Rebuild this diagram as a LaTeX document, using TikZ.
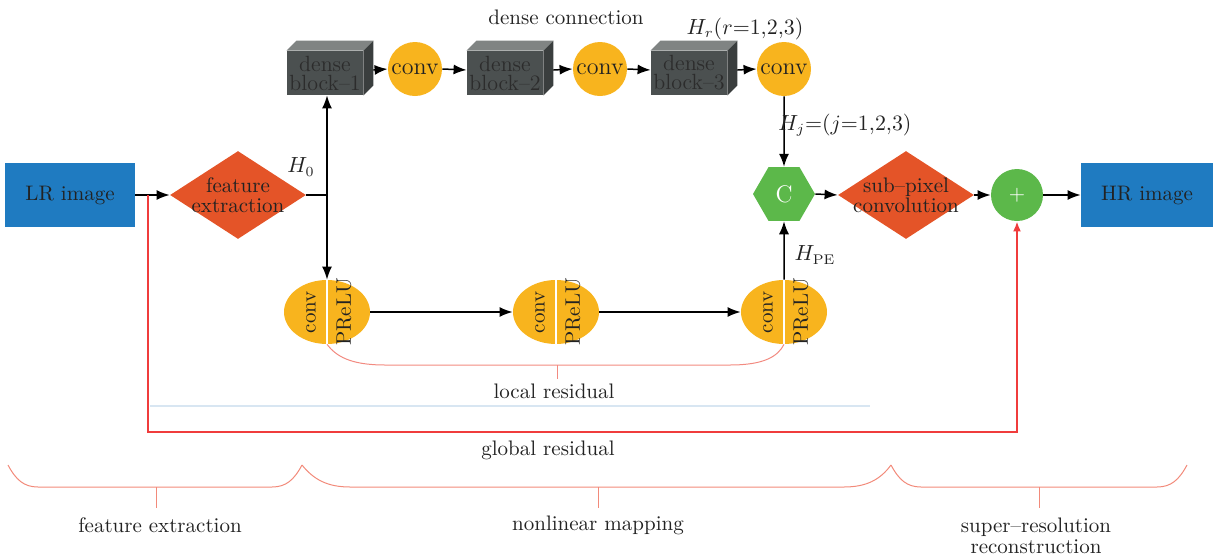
\documentclass[tikz,border=0pt]{standalone}
\usetikzlibrary{shapes.geometric,arrows.meta,calc}
\definecolor{lrblue}{HTML}{1F7BC1}
\definecolor{diam}{HTML}{E45428}
\definecolor{yel}{HTML}{F8B41E}
\definecolor{grn}{HTML}{5CB84A}
\definecolor{dfront}{HTML}{4B5050}
\definecolor{dtop}{HTML}{808483}
\definecolor{dside}{HTML}{3A3E3E}
\definecolor{dtext}{HTML}{2C2C2C}
\definecolor{gres}{HTML}{F03C3C}
\definecolor{lres}{HTML}{F28A80}
\definecolor{brc}{HTML}{F28A7A}
\definecolor{lblue}{HTML}{D8E6F2}
\definecolor{txt}{HTML}{222222}
\begin{document}
\begin{tikzpicture}[x=0.5pt,y=-0.5pt, font=\fontsize{10.5}{11}\selectfont, text=txt,
 imgbox/.style={rectangle, fill=lrblue, minimum width=65pt, minimum height=32pt, inner sep=0pt},
 dia/.style={diamond, fill=diam, minimum width=68pt, minimum height=44pt, inner sep=0pt},
 convc/.style={circle, fill=yel, minimum size=27pt, inner sep=0pt, font=\fontsize{12}{12}\selectfont},
 dblk/.style={rectangle, fill=dfront, minimum width=38pt, minimum height=22pt, inner sep=0pt, text=dtext, align=center, font=\fontsize{11}{9.5}\selectfont},
 ell/.style={ellipse, fill=yel, minimum width=43pt, minimum height=32pt, inner sep=0pt},
 arr/.style={draw=black, line width=0.75pt, -{Latex[length=6.5pt,width=5pt]}},
 ln/.style={draw=black, line width=0.75pt},
 rarr/.style={draw=gres, line width=1pt, -{Latex[length=5pt,width=4pt]}},
 lres/.style={draw=lres, line width=0.5pt},
 brace/.style={draw=brc, line width=0.5pt},
 lbl/.style={inner sep=0pt, align=center},
]
\useasboundingbox (0,0) rectangle (1223,558);

% left part
\node[imgbox] (lr) at (70,195) {LR image};
\node[dia, label={[align=center, font=\fontsize{10.5}{10}\selectfont]center:{feature\\extraction}}] (fe) at (238,195) {};
\coordinate (g0) at (148,195);
\coordinate (j0) at (327,195);
\draw[arr] (lr.east) -- (fe.west);
\draw[ln] (fe.east) -- (j0);
\node[lbl] (h0) at (301,167) {$H_0$};

% dense row
\newcommand{\dface}[1]{%
  \fill[dtop] (#1.north west) -- ++(10,-10) -- ($(#1.north east)+(10,-10)$) -- (#1.north east) -- cycle;
  \fill[dside] (#1.north east) -- ++(10,-10) -- ($(#1.south east)+(10,-10)$) -- (#1.south east) -- cycle;}
\node[dblk] (db1) at (325,73) {dense\\block--1};
\dface{db1}
\node[convc] (c1) at (415,69) {conv};
\node[dblk] (db2) at (505,73) {dense\\block--2};
\dface{db2}
\node[convc] (c2) at (600,69) {conv};
\node[dblk] (db3) at (689,73) {dense\\block--3};
\dface{db3}
\node[convc] (c3) at (784,69) {conv};
\draw[arr] ($(db1.east)+(10,-3)$) -- (c1.west);
\draw[arr] (c1.east) -- ($(db2.west)+(0,-3)$);
\draw[arr] ($(db2.east)+(10,-3)$) -- (c2.west);
\draw[arr] (c2.east) -- ($(db3.west)+(0,-3)$);
\draw[arr] ($(db3.east)+(10,-3)$) -- (c3.west);
\node[lbl] (dc) at (566,17) {dense connection};
\node[lbl] (hr) at (745,29) {$H_r(r{=}1{,}2{,}3)$};

% junction arrows
\draw[arr] (j0) -- (j0 |- db1.south);

% ellipses
\node[ell] (e1) at (327,312) {};
\node[ell] (e2) at (556,312) {};
\node[ell] (e3) at (784,312) {};
\foreach \e in {e1,e2,e3}{
  \draw[white, line width=0.8pt] (\e.north) -- (\e.south);
  \node[rotate=90, inner sep=0pt] (\e a) at ($(\e.center)+(-16,0)$) {conv};
  \node[rotate=90, inner sep=0pt] (\e b) at ($(\e.center)+(17,0)$) {PReLU};
}
\draw[arr] (j0) -- (e1.north);
\draw[arr] (e1.east) -- (e2.west);
\draw[arr] (e2.east) -- (e3.west);

% right part
\node[regular polygon, regular polygon sides=6, fill=grn, minimum size=31pt, inner sep=0pt, text=white, font=\fontsize{12}{12}\selectfont] (cc) at (784,194) {C};
\node[dia, label={[align=center, font=\fontsize{10.5}{10}\selectfont]center:{sub--pixel\\convolution}}] (sp) at (906,195) {};
\node[circle, fill=grn, minimum size=26pt, inner sep=0pt, text=white] (pl) at (1017,195) {+};
\node[imgbox, minimum width=66pt] (hr2) at (1147,195) {HR image};
\draw[arr] (c3.south) -- (cc.north);
\draw[arr] (e3.north) -- (cc.south);
\draw[arr] (cc.east) -- (sp.west);
\draw[arr] (sp.east) -- (pl.west);
\draw[arr] (pl.east) -- (hr2.west);
\node[lbl] (hj) at (845,125) {$H_j{=}(j{=}1{,}2{,}3)$};
\node[lbl] (hpe) at (815,255) {$H_{\mathrm{PE}}$};

% local residual
\coordinate (ls) at (557,365);
\draw[lres] (e1.south) .. controls (336,356) and (350,365) .. (385,365) -- (730,365) .. controls (765,365) and (778,356) .. (e3.south);
\draw[lres] (ls) -- (557,379);
\node[lbl] (lrl) at (554,391) {local residual};

% light blue line
\coordinate (b1) at (150,406);
\coordinate (b2) at (870,406);
\draw[lblue, line width=0.7pt] (b1) -- (b2);

% global residual
\draw[rarr] (g0) -- (148,432) -| (pl.south);
\node[lbl] (grl) at (548,450) {global residual};

% braces
\draw[brace] (8,465) .. controls (16,480) and (24,487) .. (38,487) -- (272,487) .. controls (286,487) and (294,480) .. (302,465);
\draw[brace] (156,487) -- (156,508);
\draw[brace] (302,465) .. controls (314,480) and (328,487) .. (350,487) -- (844,487) .. controls (866,487) and (880,480) .. (891,465);
\draw[brace] (598,487) -- (598,508);
\draw[brace] (891,465) .. controls (899,480) and (907,487) .. (921,487) -- (1157,487) .. controls (1171,487) and (1179,480) .. (1187,465);
\draw[brace] (1039,487) -- (1039,508);
\node[lbl] (t1) at (160,525) {feature extraction};
\node[lbl] (t2) at (598,525) {nonlinear mapping};
\node[lbl, font=\fontsize{10.5}{10.5}\selectfont] (t3) at (1036,536) {super--resolution\\reconstruction};
\end{tikzpicture}
\end{document}
